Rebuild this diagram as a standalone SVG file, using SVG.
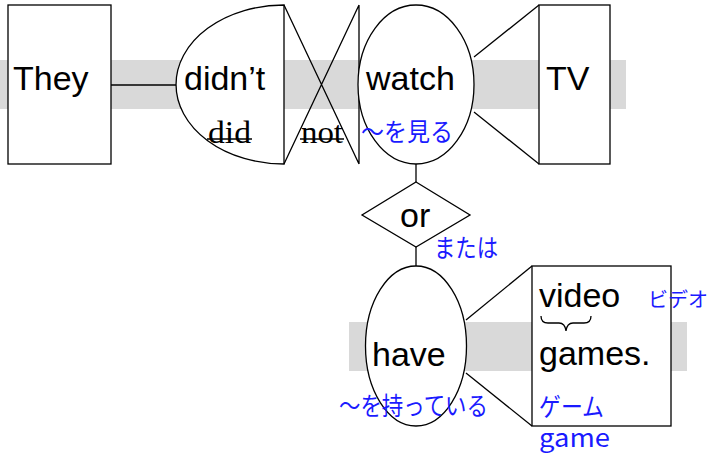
<svg xmlns="http://www.w3.org/2000/svg" width="709" height="455" viewBox="0 0 709 455">
<style>
.band{fill:#d9d9d9}
.sh{fill:#fff;stroke:#000;stroke-width:1.3}
.ln{fill:none;stroke:#000;stroke-width:1.3}
.st{fill:none;stroke:#000;stroke-width:1.6}
.t{font-family:"Liberation Sans",Arial,sans-serif;font-size:34px;fill:#000}
.s{font-family:"Liberation Serif","Times New Roman",serif;font-size:32px;fill:#000}
.j{font-family:"Noto Sans CJK JP",sans-serif;font-size:25px;fill:#1a1aff}
</style>
<rect width="709" height="455" fill="#fff"/>
<g id="bands">
<rect class="band" x="0" y="60" width="626" height="49"/>
<rect class="band" x="349" y="322" width="338" height="49"/>
</g>
<g id="connectors">
<line class="ln" x1="111" y1="85" x2="176" y2="85"/>
<line class="ln" x1="474" y1="57" x2="539" y2="5"/>
<line class="ln" x1="474" y1="112" x2="539" y2="164"/>
<line class="ln" x1="416" y1="164" x2="416" y2="182"/>
<line class="ln" x1="416" y1="247" x2="416" y2="266"/>
<line class="ln" x1="466" y1="320" x2="532" y2="266"/>
<line class="ln" x1="466" y1="373" x2="532" y2="426"/>
</g>
<g id="they">
<rect class="sh" x="8" y="5" width="103" height="159"/>
<text class="t" x="13" y="90">They</text>
</g>
<g id="didnt">
<path class="sh" d="M284,5 A108,79.5 0 0 0 284,164 Z"/>
<text class="t" x="184" y="90">didn’t</text>
<text class="s" x="208" y="143" textLength="43" lengthAdjust="spacingAndGlyphs">did</text>
<line class="st" x1="207" y1="139" x2="252" y2="139"/>
</g>
<g id="not">
<path class="ln" d="M284,5 L359,164 M359,5 L284,164 M359,5 L359,164"/>
<text class="s" x="301" y="143" textLength="42" lengthAdjust="spacingAndGlyphs">not</text>
<line class="st" x1="300" y1="139" x2="344" y2="139"/>
</g>
<g id="watch">
<ellipse class="sh" cx="416" cy="84.5" rx="58" ry="79.5"/>
<text class="t" x="366" y="90">watch</text>
<text class="j" x="361" y="141" textLength="92" lengthAdjust="spacingAndGlyphs">～を見る</text>
</g>
<g id="tv">
<rect class="sh" x="539" y="5" width="71" height="159"/>
<text class="t" x="546" y="90">TV</text>
</g>
<g id="or">
<polygon class="sh" points="416,182 470,215 416,247 362,215"/>
<text class="t" x="400" y="227">or</text>
<text class="j" x="434" y="257" textLength="64" lengthAdjust="spacingAndGlyphs">または</text>
</g>
<g id="have">
<ellipse class="sh" cx="416" cy="346" rx="50.5" ry="80"/>
<text class="t" x="372" y="366">have</text>
<text class="j" x="339" y="415" textLength="149" lengthAdjust="spacingAndGlyphs">～を持っている</text>
</g>
<g id="videogames">
<rect class="sh" x="532" y="266" width="139" height="160"/>
<text class="t" x="539" y="307">video</text>
<path class="ln" d="M541,316 Q541,323 548,323 L559,323 Q565,323 566,331 Q567,323 573,323 L584,323 Q591,323 591,316"/>
<text class="t" x="539" y="365">games.</text>
<text class="j" x="648" y="307" style="font-size:20px">ビデオ</text>
<text class="j" x="539" y="416" textLength="65" lengthAdjust="spacingAndGlyphs">ゲーム</text>
<text class="j" x="539" y="447" textLength="71" lengthAdjust="spacingAndGlyphs">game</text>
</g>
</svg>
